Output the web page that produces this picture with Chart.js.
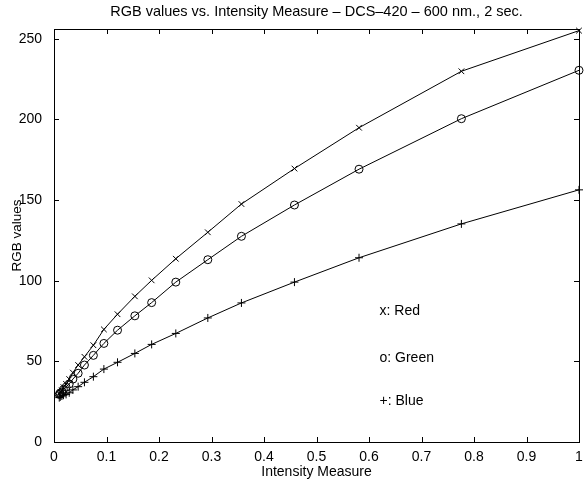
<!DOCTYPE html>
<html lang="en">
<head>
    <meta charset="UTF-8">
    <title>RGB values vs. Intensity Measure</title>
    <script src="https://cdn.jsdelivr.net/npm/chart.js@4.4.1/dist/chart.umd.min.js"></script>
    <style>
        html, body { margin: 0; padding: 0; background: #fff; }
        #wrap { width: 584px; height: 485px; }
    </style>
</head>
<body>
<div id="wrap">
    <canvas id="myChart" width="584" height="485"></canvas>
</div>

<script>
    // values
    var intensity = [0.010, 0.012, 0.015, 0.018, 0.023, 0.029, 0.036, 0.046, 0.058, 0.075, 0.095, 0.121, 0.154, 0.186, 0.232, 0.293, 0.357, 0.458, 0.581, 0.776, 1.0];
    var red   = [30, 31, 32, 34, 36, 39, 43, 47.7, 52.8, 60, 69.8, 79.2, 90.3, 100.2, 113.6, 130, 147.5, 169.5, 194.8, 229.8, 255];
    var green = [29.5, 30, 31, 32.5, 34, 36, 39, 42.6, 47.7, 53.7, 61.1, 69.3, 78.2, 86.4, 99.1, 113, 127.5, 146.9, 169.1, 200.4, 230.4];
    var blue  = [27.5, 28, 28.5, 29, 29.5, 30.5, 32.3, 34.3, 37, 40.5, 45.2, 49.4, 54.9, 60.5, 67.3, 76.9, 86.2, 99.1, 114.2, 135.2, 156.3];

    var xTicks = [0, 0.1, 0.2, 0.3, 0.4, 0.5, 0.6, 0.7, 0.8, 0.9, 1];
    var yTicks = [0, 50, 100, 150, 200, 250];

    var titleText = "RGB values vs. Intensity Measure \u2013 DCS\u2013420 \u2013 600 nm., 2 sec.";
    var notes = [
        { text: "x: Red",   x: 0.62, y: 81 },
        { text: "o: Green", x: 0.62, y: 52 },
        { text: "+: Blue",  x: 0.62, y: 25.5 }
    ];

    function toPoints(ys) {
        var pts = [];
        for (var i = 0; i < intensity.length; i++) {
            pts.push({ x: intensity[i], y: ys[i] });
        }
        return pts;
    }

    function series(label, ys, style) {
        return {
            label: label,
            data: toPoints(ys),
            borderColor: "#000",
            borderWidth: 1,
            pointStyle: style,
            pointRadius: 4,
            pointBorderColor: "#000",
            pointBackgroundColor: "rgba(0,0,0,0)",
            pointBorderWidth: 1,
            fill: false,
            tension: 0,
            clip: false
        };
    }

    var FONT = "'Liberation Sans', Arial, Helvetica, sans-serif";

    // matlab style box, inward ticks, title and text notes
    var boxPlugin = {
        id: "box",
        afterDatasetsDraw: function (chart) {
            var ctx = chart.ctx;
            var a = chart.chartArea;
            var xs = chart.scales.x, ys = chart.scales.y;
            var len = 5;
            ctx.save();
            ctx.strokeStyle = "#000";
            ctx.lineWidth = 1;
            ctx.strokeRect(Math.round(a.left) + 0.5, Math.round(a.top) + 0.5,
                Math.round(a.right - a.left), Math.round(a.bottom - a.top));
            ctx.beginPath();
            xTicks.forEach(function (v) {
                var px = Math.round(xs.getPixelForValue(v)) + 0.5;
                ctx.moveTo(px, a.bottom); ctx.lineTo(px, a.bottom - len);
                ctx.moveTo(px, a.top); ctx.lineTo(px, a.top + len);
            });
            yTicks.forEach(function (v) {
                var py = Math.round(ys.getPixelForValue(v)) + 0.5;
                ctx.moveTo(a.left, py); ctx.lineTo(a.left + len, py);
                ctx.moveTo(a.right, py); ctx.lineTo(a.right - len, py);
            });
            ctx.stroke();

            ctx.fillStyle = "#000";
            ctx.font = "14px " + FONT;
            ctx.textBaseline = "middle";
            ctx.textAlign = "left";
            notes.forEach(function (n) {
                ctx.fillText(n.text, xs.getPixelForValue(n.x), ys.getPixelForValue(n.y));
            });

            ctx.textAlign = "center";
            ctx.font = "14.5px " + FONT;
            ctx.fillText(titleText, (a.left + a.right) / 2, 12);
            ctx.restore();
        }
    };

    var ctx = document.getElementById("myChart");
    var myChart = new Chart(ctx, {
        type: "line",
        data: {
            datasets: [
                series("Red", red, "crossRot"),
                series("Green", green, "circle"),
                series("Blue", blue, "cross")
            ]
        },
        options: {
            responsive: false,
            maintainAspectRatio: false,
            animation: false,
            layout: { padding: { top: 29, right: 3, left: 9, bottom: 4 } },
            plugins: {
                legend: { display: false },
                title: { display: false },
                tooltip: { enabled: false }
            },
            scales: {
                x: {
                    type: "linear",
                    min: 0,
                    max: 1,
                    border: { display: false },
                    grid: { display: false },
                    afterBuildTicks: function (scale) {
                        scale.ticks = xTicks.map(function (v) { return { value: v }; });
                    },
                    afterFit: function (scale) {
                        scale.height = 39;
                        scale.paddingLeft = 0;
                        scale.paddingRight = 0;
                    },
                    ticks: {
                        color: "#000",
                        font: { family: FONT, size: 14 },
                        padding: -1,
                        maxRotation: 0,
                        autoSkip: false,
                        callback: function (v) { return String(+v.toFixed(1)); }
                    },
                    title: {
                        display: true,
                        text: "Intensity Measure",
                        color: "#000",
                        font: { family: FONT, size: 14 },
                        padding: { top: 0, bottom: 0 }
                    }
                },
                y: {
                    type: "linear",
                    min: 0,
                    max: 256,
                    border: { display: false },
                    grid: { display: false },
                    afterBuildTicks: function (scale) {
                        scale.ticks = yTicks.map(function (v) { return { value: v }; });
                    },
                    afterFit: function (scale) {
                        scale.width = 45;
                        scale.paddingTop = 0;
                        scale.paddingBottom = 0;
                    },
                    ticks: {
                        color: "#000",
                        font: { family: FONT, size: 14 },
                        padding: 4
                    },
                    title: {
                        display: true,
                        text: "RGB values",
                        color: "#000",
                        font: { family: FONT, size: 13.5 },
                        padding: { top: 0, bottom: 0 }
                    }
                }
            }
        },
        plugins: [boxPlugin]
    });
</script>
</body>
</html>
